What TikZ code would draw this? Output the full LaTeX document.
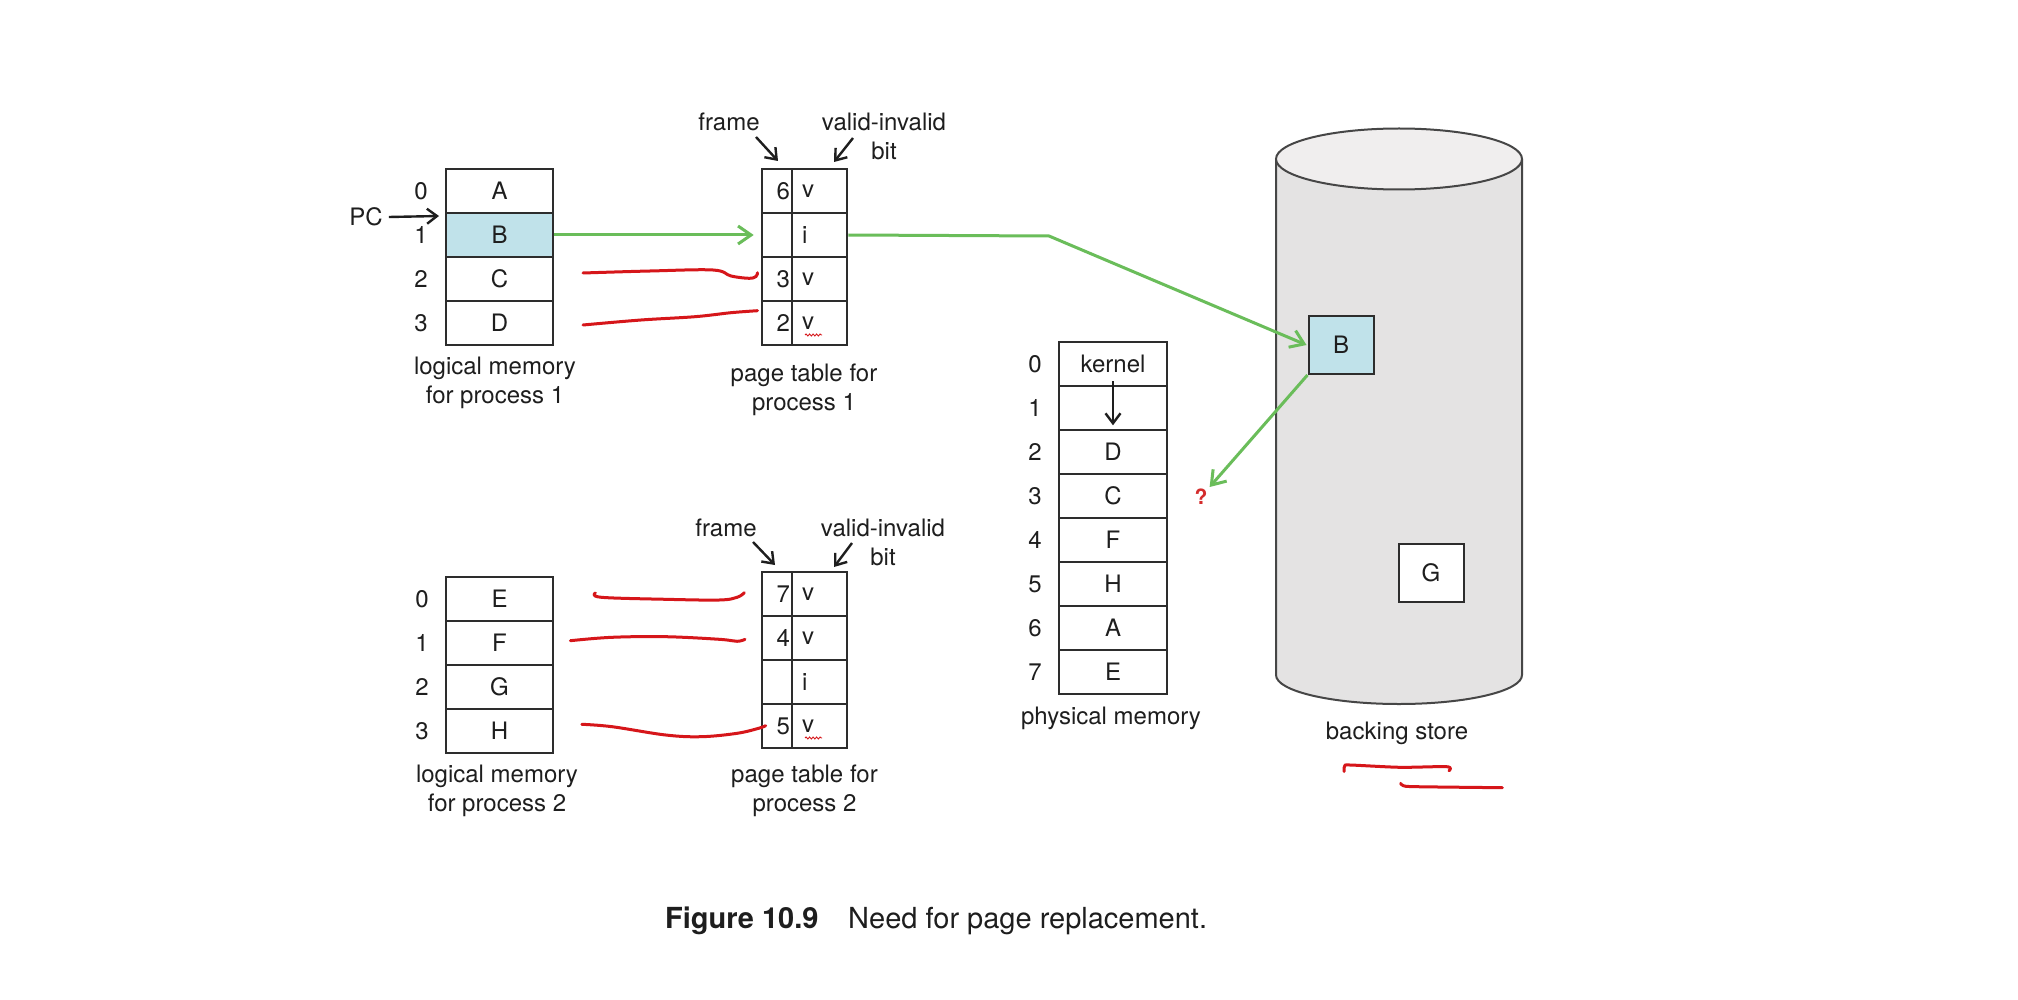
\documentclass[tikz,border=0pt]{standalone}
\usepackage{fontspec}
\setmainfont{TeX Gyre Heros}
\usetikzlibrary{arrows.meta,decorations.pathmorphing}
\definecolor{pgblue}{RGB}{192,226,234}
\definecolor{pggreen}{RGB}{106,189,90}
\definecolor{pgred}{RGB}{214,22,26}
\definecolor{qred}{RGB}{212,44,44}
\definecolor{cylfill}{RGB}{228,227,227}
\definecolor{cyltop}{RGB}{240,238,238}
\definecolor{cylline}{RGB}{70,70,70}
\definecolor{boxline}{RGB}{45,45,45}
\definecolor{txt}{RGB}{30,30,30}
\begin{document}
\begin{tikzpicture}[x=1pt,y=-1pt,
  every node/.style={font=\fontsize{24}{29}\selectfont, text=txt},
  box/.style={draw=boxline, line width=2.6pt, inner ysep=0pt, minimum height=44pt},
  lcell/.style={box, inner xsep=0pt, minimum width=107pt},
  pcell/.style={box, inner xsep=0pt, minimum width=108pt},
  fcell/.style={box, text width=26pt, inner xsep=2pt, align=right},
  vcell/.style={box, text width=35pt, inner xsep=10pt, align=left},
  idx/.style={inner sep=0pt},
  lbl/.style={inner sep=0pt, align=center},
  storebox/.style={draw=boxline, line width=2pt, minimum width=65pt, minimum height=58pt, inner sep=0pt},
  greenarrow/.style={draw=pggreen, line width=3pt, line join=round, -{Straight Barb[length=13pt,width=18pt]}},
  blkarrow/.style={draw=txt, line width=2.4pt, -{Straight Barb[length=10pt,width=15pt]}},
  pen/.style={draw=pgred, line width=3pt, line cap=round, line join=round},
  squig/.style={draw=pgred, line width=0.9pt, decorate, decoration={snake, segment length=3.5pt, amplitude=1pt}},
  qmark/.style={inner sep=0pt, font=\fontsize{21}{24}\selectfont\bfseries, text=qred}
]
\useasboundingbox (0,0) rectangle (2018,1000);
\fill[white] (0,0) rectangle (2018,1000);

% ---------- backing store cylinder ----------
\path[fill=cylfill] (1276,159) -- (1276,675) arc[start angle=180, end angle=0, x radius=123, y radius=29] -- (1522,159) -- cycle;
\draw[cylline, line width=2pt] (1276,159) -- (1276,675) arc[start angle=180, end angle=0, x radius=123, y radius=29] -- (1522,159);
\draw[cylline, line width=2pt, fill=cyltop] (1399,159) ellipse [x radius=123, y radius=30.5];
\node[storebox, fill=pgblue] (bsB) at (1341,345) {B};
\node[storebox, fill=white] (bsG) at (1431,573) {G};
\node[lbl] (bscap) at (1397,733) {backing store};

% ---------- logical memory for process 1 ----------
\node[lcell] (l1r0) at (499.5,191) {A};
\node[lcell, fill=pgblue] (l1r1) at (499.5,235) {B};
\node[lcell] (l1r2) at (499.5,279) {C};
\node[lcell] (l1r3) at (499.5,323) {D};
\node[idx] (l1i0) at (421,191) {0};
\node[idx] (l1i1) at (421,235) {1};
\node[idx] (l1i2) at (421,279) {2};
\node[idx] (l1i3) at (421,323) {3};
\node[lbl] (l1cap) at (495,382.5) {logical memory\\for process 1};
\node[idx] (pc) at (366,217) {PC};
\coordinate (pctip) at (439,216);
\draw[blkarrow] (pc.east) ++(6pt,0) -- (pctip);

% ---------- page table for process 1 ----------
\node[fcell] (p1f0) at (777,191) {6};
\node[vcell] (p1v0) at (819.5,191) {v};
\node[fcell] (p1f1) at (777,235) {};
\node[vcell] (p1v1) at (819.5,235) {i};
\node[fcell] (p1f2) at (777,279) {3};
\node[vcell] (p1v2) at (819.5,279) {v};
\node[fcell] (p1f3) at (777,323) {2};
\node[vcell] (p1v3) at (819.5,323) {v};
\draw[squig] (805,335) -- (822,335);
\node[lbl] (fr1) at (729,122) {frame};
\node[lbl] (vi1) at (884,136) {valid-invalid\\bit};
\coordinate (fa1s) at (756,137);
\coordinate (fa1e) at (778,161);
\coordinate (va1s) at (853,138);
\coordinate (va1e) at (834,162);
\draw[blkarrow] (fa1s) -- (fa1e);
\draw[blkarrow] (va1s) -- (va1e);
\node[lbl] (p1cap) at (804,390) {page table for\\process 1};

% ---------- physical memory ----------
\node[pcell] (pm0) at (1113,364) {kernel};
\node[pcell] (pm1) at (1113,408) {};
\node[pcell] (pm2) at (1113,452) {D};
\node[pcell] (pm3) at (1113,496) {C};
\node[pcell] (pm4) at (1113,540) {F};
\node[pcell] (pm5) at (1113,584) {H};
\node[pcell] (pm6) at (1113,628) {A};
\node[pcell] (pm7) at (1113,672) {E};
\node[idx] (pmi0) at (1035,364) {0};
\node[idx] (pmi1) at (1035,408) {1};
\node[idx] (pmi2) at (1035,452) {2};
\node[idx] (pmi3) at (1035,496) {3};
\node[idx] (pmi4) at (1035,540) {4};
\node[idx] (pmi5) at (1035,584) {5};
\node[idx] (pmi6) at (1035,628) {6};
\node[idx] (pmi7) at (1035,672) {7};
\draw[blkarrow] ([yshift=6pt]pm0.south) -- ([yshift=6pt]pm1.south);
\node[lbl] (pmcap) at (1111,718) {physical memory};

% ---------- logical memory for process 2 ----------
\node[lcell] (l2r0) at (499.5,599) {E};
\node[lcell] (l2r1) at (499.5,643) {F};
\node[lcell] (l2r2) at (499.5,687) {G};
\node[lcell] (l2r3) at (499.5,731) {H};
\node[idx] (l2i0) at (422,599) {0};
\node[idx] (l2i1) at (422,643) {1};
\node[idx] (l2i2) at (422,687) {2};
\node[idx] (l2i3) at (422,731) {3};
\node[lbl] (l2cap) at (497,791) {logical memory\\for process 2};

% ---------- page table for process 2 ----------
\node[fcell] (p2f0) at (777,594) {7};
\node[vcell] (p2v0) at (819.5,594) {v};
\node[fcell] (p2f1) at (777,638) {4};
\node[vcell] (p2v1) at (819.5,638) {v};
\node[fcell] (p2f2) at (777,682) {};
\node[vcell] (p2v2) at (819.5,682) {i};
\node[fcell] (p2f3) at (777,726) {5};
\node[vcell] (p2v3) at (819.5,726) {v};
\draw[squig] (805,738) -- (822,738);
\node[lbl] (fr2) at (726,528) {frame};
\node[lbl] (vi2) at (883,542.5) {valid-invalid\\bit};
\coordinate (fa2s) at (753,542);
\coordinate (fa2e) at (775,565);
\coordinate (va2s) at (852,543);
\coordinate (va2e) at (834,567);
\draw[blkarrow] (fa2s) -- (fa2e);
\draw[blkarrow] (va2s) -- (va2e);
\node[lbl] (p2cap) at (804.5,791) {page table for\\process 2};

% ---------- green connectors ----------
\draw[greenarrow, shorten >=7pt] (l1r1.east) -- (p1f1.west);
\coordinate (gbend) at (1049,236);
\node[qmark] (q) at (1201,497) {?};
\draw[greenarrow] (p1v1.east) -- (gbend) -- ([xshift=-1pt]bsB.west);
\draw[greenarrow] (bsB.south west) -- ([xshift=2pt,yshift=2pt]q.north east);

% ---------- hand-drawn red marks ----------
\draw[pen] plot[smooth, tension=0.6] coordinates {(583,273) (650,271) (713,270) (731,276) (749,278.3) (756,276.5) (757.5,272.7)};
\draw[pen] plot[smooth, tension=0.6] coordinates {(583,325) (641,320) (695,316.7) (731,312.7) (757.5,310.7)};
\draw[pen] plot[smooth, tension=0.6] coordinates {(595.4,593) (601.4,597.3) (665.7,599.3) (719.3,600) (737.1,597.3) (744.3,592.7)};
\draw[pen] plot[smooth, tension=0.6] coordinates {(570.4,640.7) (612.1,637.3) (665.7,636.7) (719.3,639.3) (737.1,641.3) (745,639.3)};
\draw[pen] plot[smooth, tension=0.6] coordinates {(581.8,724.3) (612.1,726.7) (665.7,735) (701.4,736.7) (737.1,733.3) (758.6,728.3) (765.7,725.7)};
\draw[pen] plot[smooth, tension=0.5] coordinates {(1344,771.5) (1344.7,766) (1350,765) (1400,767.3) (1446.7,766.7) (1449,770.7)};
\draw[pen] plot[smooth, tension=0.5] coordinates {(1400.7,783.3) (1403.3,785.7) (1416.7,786.7) (1502.3,787.7)};

% ---------- caption ----------
\node[anchor=base west, inner sep=0pt, font=\fontsize{29}{34}\selectfont\bfseries] (figno) at (665,928) {Figure 10.9};
\node[anchor=base west, inner sep=0pt, font=\fontsize{29}{34}\selectfont] (figtxt) at (848,928) {Need for page replacement.};
\end{tikzpicture}
\end{document}
